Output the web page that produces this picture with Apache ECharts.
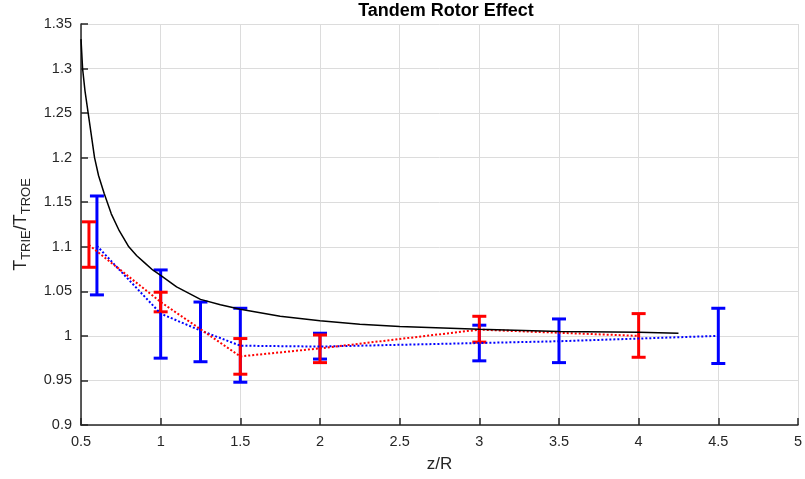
<!DOCTYPE html>
<html>
<head>
<meta charset="utf-8">
<script src="https://cdn.jsdelivr.net/npm/echarts@6/dist/echarts.min.js"></script>
<style>html,body{margin:0;padding:0;background:#fff}#c{width:805px;height:479px}</style>
</head>
<body>
<div id="c"></div>
<script>
// ---- data ----
const blueX    = [0.6, 1.0, 1.25, 1.5, 2.0, 3.0, 3.5, 4.5];
const blueMean = [1.101, 1.025, 1.006, 0.989, 0.988, 0.992, 0.994, 1.000];
const blueLow  = [1.046, 0.975, 0.971, 0.948, 0.974, 0.972, 0.970, 0.969];
const blueHigh = [1.157, 1.074, 1.038, 1.031, 1.003, 1.012, 1.019, 1.031];

const redX    = [0.55, 1.0, 1.5, 2.0, 3.0, 4.0];
const redMean = [1.102, 1.038, 0.977, 0.986, 1.007, 1.000];
const redLow  = [1.077, 1.027, 0.957, 0.970, 0.993, 0.976];
const redHigh = [1.128, 1.049, 0.997, 1.001, 1.022, 1.025];

const curveX = [0.5, 0.51, 0.525, 0.545, 0.565, 0.585, 0.61, 0.645, 0.69, 0.74, 0.8, 0.85, 0.9, 0.95, 1.0, 1.1, 1.25, 1.375, 1.5, 1.75, 2.0, 2.25, 2.5, 3.0, 3.5, 4.0, 4.25];
const curveY = [1.333, 1.30, 1.275, 1.25, 1.225, 1.20, 1.18, 1.16, 1.137, 1.118, 1.10, 1.09, 1.082, 1.074, 1.068, 1.055, 1.041, 1.035, 1.030, 1.022, 1.017, 1.013, 1.0104, 1.0074, 1.005, 1.004, 1.003];

const xTicks = {min: 0.5, max: 5, interval: 0.5};
const yTicks = {min: 0.9, max: 1.35, interval: 0.05};

const titleText = 'Tandem Rotor Effect';
const xName = 'z/R';

// ---- build ----
const FONT = '"Liberation Sans", Arial, Helvetica, sans-serif';
const TXT = '#262626';

function pairs(xs, ys) { return xs.map((x, i) => [x, ys[i]]); }
function bars(xs, lo, hi) { return xs.map((x, i) => [x, lo[i], hi[i]]); }

function errorSeries(name, data, color) {
  return {
    name, type: 'custom', data, z: 3,
    encode: {x: 0, y: [1, 2]},
    renderItem: function (params, api) {
      const x = api.value(0);
      const lo = api.coord([x, api.value(1)]);
      const hi = api.coord([x, api.value(2)]);
      const w = 7;
      const style = {stroke: color, lineWidth: 3, fill: null};
      return {
        type: 'group',
        children: [
          {type: 'line', shape: {x1: lo[0], y1: lo[1], x2: hi[0], y2: hi[1]}, style},
          {type: 'line', shape: {x1: lo[0] - w, y1: lo[1], x2: lo[0] + w, y2: lo[1]}, style},
          {type: 'line', shape: {x1: hi[0] - w, y1: hi[1], x2: hi[0] + w, y2: hi[1]}, style}
        ]
      };
    }
  };
}

const chart = echarts.init(document.getElementById('c'), null, {renderer: 'canvas'});
chart.setOption({
  animation: false,
  backgroundColor: '#ffffff',
  textStyle: {fontFamily: FONT},
  title: {
    text: titleText, left: 441, top: -3, textAlign: 'center',
    textStyle: {fontFamily: FONT, fontWeight: 'bold', fontSize: 18, color: '#000'}
  },
  grid: {left: 81, right: 3, top: 24, bottom: 54, containLabel: false},
  xAxis: {
    type: 'value', min: xTicks.min, max: xTicks.max, interval: xTicks.interval,
    name: xName, nameLocation: 'middle', nameGap: 31,
    nameTextStyle: {fontFamily: FONT, fontSize: 17, color: TXT},
    axisLine: {onZero: false, lineStyle: {color: TXT, width: 1.5}},
    axisTick: {inside: true, length: 7, lineStyle: {color: TXT, width: 1.5}},
    axisLabel: {margin: 9, fontFamily: FONT, fontSize: 14.5, color: TXT},
    splitLine: {show: true, lineStyle: {color: '#dcdcdc', width: 1}}
  },
  yAxis: {
    type: 'value', min: yTicks.min, max: yTicks.max, interval: yTicks.interval,
    name: '{a|T}{b|TRIE}{a|/T}{b|TROE}', nameLocation: 'middle', nameGap: 45,
    nameTextStyle: {
      color: TXT,
      rich: {
        a: {fontFamily: FONT, fontSize: 18, color: TXT},
        b: {fontFamily: FONT, fontSize: 13, color: TXT, padding: [10, 0, 0, 0]}
      }
    },
    axisLine: {onZero: false, lineStyle: {color: TXT, width: 1.5}},
    axisTick: {inside: true, length: 7, lineStyle: {color: TXT, width: 1.5}},
    axisLabel: {margin: 9, fontFamily: FONT, fontSize: 14.5, color: TXT},
    splitLine: {show: true, lineStyle: {color: '#dcdcdc', width: 1}}
  },
  series: [
    errorSeries('blueErr', bars(blueX, blueLow, blueHigh), '#0000ff'),
    errorSeries('redErr', bars(redX, redLow, redHigh), '#ff0000'),
    {
      name: 'blue', type: 'line', data: pairs(blueX, blueMean), symbol: 'none', z: 4,
      lineStyle: {color: '#0000ff', width: 2, type: [2, 2]}
    },
    {
      name: 'red', type: 'line', data: pairs(redX, redMean), symbol: 'none', z: 4,
      lineStyle: {color: '#ff0000', width: 2, type: [2, 2]}
    },
    {
      name: 'theory', type: 'line', data: pairs(curveX, curveY), symbol: 'none', z: 5,
      smooth: false,
      lineStyle: {color: '#000000', width: 1.5}
    }
  ]
});
</script>
</body>
</html>
